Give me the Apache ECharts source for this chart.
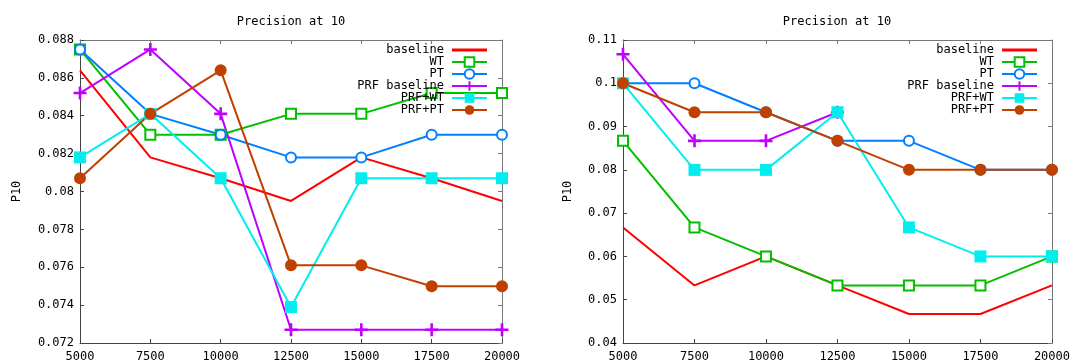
<!DOCTYPE html>
<html>
<head>
<meta charset="utf-8">
<script src="https://cdn.jsdelivr.net/npm/echarts@6/dist/echarts.min.js"></script>
<style>html,body{margin:0;padding:0;background:#fff;}#c{width:1073px;height:363px;}</style>
</head>
<body>
<div id="c"></div>
<script>
// ---- data ----
const xValues = [5000, 7500, 10000, 12500, 15000, 17500, 20000];
const seriesNames = ['baseline', 'WT', 'PT', 'PRF baseline', 'PRF+WT', 'PRF+PT'];
// left chart
const leftBaseline    = [0.0864, 0.0818, 0.0807, 0.0795, 0.0818, 0.0807, 0.0795];
const leftWT          = [0.0875, 0.0830, 0.0830, 0.0841, 0.0841, 0.0852, 0.0852];
const leftPT          = [0.0875, 0.0841, 0.0830, 0.0818, 0.0818, 0.0830, 0.0830];
const leftPRFBaseline = [0.0852, 0.0875, 0.0841, 0.0727, 0.0727, 0.0727, 0.0727];
const leftPRFWT       = [0.0818, 0.0841, 0.0807, 0.0739, 0.0807, 0.0807, 0.0807];
const leftPRFPT       = [0.0807, 0.0841, 0.0864, 0.0761, 0.0761, 0.0750, 0.0750];
// right chart
const rightBaseline    = [0.0667, 0.0533, 0.0600, 0.0533, 0.0467, 0.0467, 0.0533];
const rightWT          = [0.0867, 0.0667, 0.0600, 0.0533, 0.0533, 0.0533, 0.0600];
const rightPT          = [0.1000, 0.1000, 0.0933, 0.0867, 0.0867, 0.0800, 0.0800];
const rightPRFBaseline = [0.1067, 0.0867, 0.0867, 0.0933, null, null, null];
const rightPRFWT       = [0.1000, 0.0800, 0.0800, 0.0933, 0.0667, 0.0600, 0.0600];
const rightPRFPT       = [0.1000, 0.0933, 0.0933, 0.0867, 0.0800, 0.0800, 0.0800];
const titleText = 'Precision at 10';
const yName = 'P10';

// ---- styling ----
const FONT = 'DejaVu Sans Mono';
const colors = ['#ff0000', '#00c000', '#0080ff', '#c000ff', '#00eeee', '#c04000'];
const plusPath = 'path://M4,0h2v4h4v2h-4v4h-2v-4h-4v-2h4z';
const symbols = [
  {symbol: 'none', size: 0},
  {symbol: 'emptyRect', size: 10},
  {symbol: 'emptyCircle', size: 10},
  {symbol: plusPath, size: 13},
  {symbol: 'rect', size: 12},
  {symbol: 'circle', size: 12}
];
const fmtY = v => String(Number(v.toFixed(3)));
const fmtX = v => String(v);

function mkSeries(valsList, gridIdx) {
  return valsList.map((vals, i) => ({
    name: seriesNames[i],
    type: 'line',
    xAxisIndex: gridIdx * 2,
    yAxisIndex: gridIdx * 2,
    data: xValues.map((x, j) => [x, vals[j]]),
    symbol: symbols[i].symbol,
    symbolSize: symbols[i].size,
    showSymbol: symbols[i].symbol !== 'none',
    connectNulls: false,
    clip: false,
    lineStyle: {color: colors[i], width: 2},
    itemStyle: {color: colors[i], borderColor: colors[i], borderWidth: (i === 1 || i === 2) ? 2 : 0},
    emphasis: {disabled: true}
  }));
}

function mkAxes(gridIdx, ymin, ymax, yint, nameGap) {
  const xa = [
    {type: 'value', gridIndex: gridIdx, min: 5000, max: 20000, interval: 2500, position: 'bottom',
     axisLine: {show: true, lineStyle: {color: '#444', width: 1}},
     axisTick: {show: true, inside: true, length: 4, lineStyle: {color: '#444'}},
     axisLabel: {color: '#000', fontFamily: FONT, fontSize: 12, margin: 8, formatter: fmtX, hideOverlap: false, showMinLabel: true, showMaxLabel: true},
     splitLine: {show: false}},
    {type: 'value', gridIndex: gridIdx, min: 5000, max: 20000, interval: 2500, position: 'top',
     axisLine: {show: true, lineStyle: {color: '#777', width: 1}},
     axisTick: {show: true, inside: true, length: 4, lineStyle: {color: '#777'}},
     axisLabel: {show: false}, splitLine: {show: false}}
  ];
  const ya = [
    {type: 'value', gridIndex: gridIdx, min: ymin, max: ymax, interval: yint, position: 'left',
     name: yName, nameLocation: 'middle', nameGap: nameGap, nameRotate: 90,
     nameTextStyle: {color: '#000', fontFamily: FONT, fontSize: 12},
     axisLine: {show: true, lineStyle: {color: '#444', width: 1}},
     axisTick: {show: true, inside: true, length: 4, lineStyle: {color: '#444'}},
     axisLabel: {color: '#000', fontFamily: FONT, fontSize: 12, margin: 6, formatter: fmtY, showMinLabel: true, showMaxLabel: true},
     splitLine: {show: false}},
    {type: 'value', gridIndex: gridIdx, min: ymin, max: ymax, interval: yint, position: 'right',
     axisLine: {show: true, lineStyle: {color: '#777', width: 1}},
     axisTick: {show: true, inside: true, length: 4, lineStyle: {color: '#777'}},
     axisLabel: {show: false}, splitLine: {show: false}}
  ];
  return {xa, ya};
}

const L = mkAxes(0, 0.072, 0.088, 0.002, 57);
const R = mkAxes(1, 0.04, 0.11, 0.01, 49);

const legendData = seriesNames.map((n, i) => i === 0 ? {name: n, icon: 'path://M0,0h35v3h-35z'} : {name: n});
const legendCommon = {
  orient: 'vertical', align: 'right', itemWidth: 35, itemHeight: 12, itemGap: 0,
  top: 44, padding: 0, selectedMode: false,
  textStyle: {color: '#000', fontFamily: FONT, fontSize: 12, lineHeight: 12, padding: [0, 3, 0, 0]},
  data: legendData
};

const option = {
  animation: false,
  backgroundColor: '#fff',
  title: [
    {text: titleText, left: 291, top: 16, padding: 0, textAlign: 'center',
     textStyle: {color: '#000', fontFamily: FONT, fontSize: 12, fontWeight: 'normal'}},
    {text: titleText, left: 837, top: 16, padding: 0, textAlign: 'center',
     textStyle: {color: '#000', fontFamily: FONT, fontSize: 12, fontWeight: 'normal'}}
  ],
  legend: [
    Object.assign({}, legendCommon, {right: 1073 - 488}),
    Object.assign({}, legendCommon, {right: 1073 - 1038})
  ],
  grid: [
    {left: 80, right: 1073 - 502, top: 40, bottom: 363 - 343, containLabel: false},
    {left: 623, right: 1073 - 1052, top: 40, bottom: 363 - 343, containLabel: false}
  ],
  xAxis: [L.xa[0], L.xa[1], R.xa[0], R.xa[1]],
  yAxis: [L.ya[0], L.ya[1], R.ya[0], R.ya[1]],
  series: [
    ...mkSeries([leftBaseline, leftWT, leftPT, leftPRFBaseline, leftPRFWT, leftPRFPT], 0),
    ...mkSeries([rightBaseline, rightWT, rightPT, rightPRFBaseline, rightPRFWT, rightPRFPT], 1)
  ]
};

const chart = echarts.init(document.getElementById('c'), null, {renderer: 'canvas'});
chart.setOption(option);
</script>
</body>
</html>
